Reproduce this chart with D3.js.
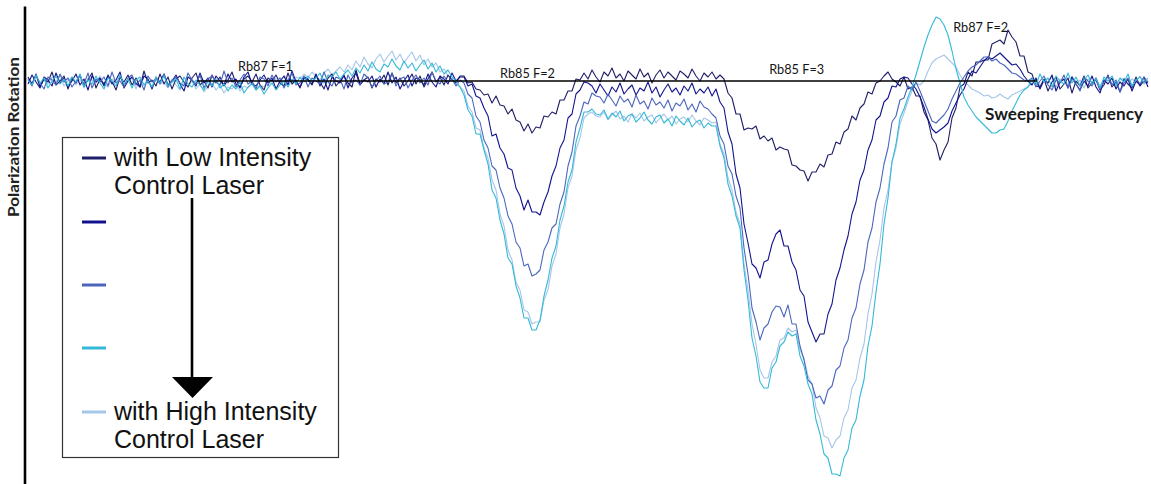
<!DOCTYPE html>
<html>
<head>
<meta charset="utf-8">
<script src="https://cdn.jsdelivr.net/npm/d3@7/dist/d3.min.js"></script>
<style>
  html, body { margin: 0; padding: 0; background: #ffffff; }
  svg { display: block; }
</style>
</head>
<body>
<svg id="chart" width="1151" height="484"></svg>
<script>
// Polarization rotation vs. sweep step (281 samples per trace, arbitrary units, 0 = no rotation)
const seriesNames = ["low", "s2", "s3", "s4", "high"];
const seriesColors = ["#1f1f68", "#12128e", "#4a66bc", "#33b8d8", "#a4c6e8"];

const lowIntensity = [
  4,-3,7,-6,2,-1,9,-4,0,5, -8,3,-2,6,-5,1,8,-7,2,-3, 5,0,-9,4,-1,6,-4,3,-6,10, -2,1,-5,7,-3,4,-8,2,5,-1,
  -6,3,8,-4,0,-7,6,-2,4,-5, 1,9,-3,-6,2,5,-1,7,-4,-9, 3,0,6,-2,-5,8,-3,1,-7,4, 2,-4,6,-1,-8,3,7,-5,0,5,
  -2,-6,11,-3,1,4,-7,2,-1,6, -4,8,-2,3,-5,0,7,-3,5,-6, 2,9,-1,4,-4,6,1,-2,5,
  5,-2,-1,-8,-9,-14,-13,-22,-15,-24,-25,-33,-28,-39,-41,-50,-43,-52,-46,-47,-35,-36,-31,-33,-19,-19,-10,-10,2,1,
  8,2,11,4,-1,9,5,13,3,7,0,10,6,2,12,4,8,-2,6,11,3,9,5,1,10,7,3,12,5,0,8,4,9,2,6,
  2,-12,-17,-33,-33,-49,-47,-48,-45,-58,-55,-60,-57,-69,-66,-68,-69,-84,-85,-89,-90,-100,-91,-91,-83,-86,-74,-73,-61,-63,-51,-48,-35,-39,-27,-23,-11,-13,-2,0,5,
  9,2,-1,-5,4,-8,-6,-15,-15,-31,-39,-57,-63,-79,-69,-61,-37,-27,-6,-3,9,5,19,19,21,21,37,39,41,37,51,44,39,25,25,9,7,-5,
  -6,2,-10,-1,4,-8,-3,3,-12,0,-5,5,-7,-2,1,-9,-4,6,-6,-1,-11,2,-3,-7,4,-5,0,-2
];
const intensity2 = [
  -3,6,-1,-7,4,1,-5,8,-2,3, -6,0,7,-4,2,-9,5,-1,3,-5, 6,-3,1,9,-7,0,4,-2,-6,5, 2,-8,3,-1,7,-4,0,6,-3,-10,
  4,1,-5,8,-2,3,-6,5,0,-4, 7,-1,2,-7,4,9,-3,-5,1,6, -2,3,-8,0,5,-4,10,-1,-6,3, 1,-3,7,-5,2,-9,4,0,-2,6,
  -7,3,8,-4,1,-1,5,-6,2,-3, 9,-2,4,-8,0,6,-5,3,1,-4, 7,-1,-6,5,2,-3,8,0,4,
  4,-5,-3,-15,-17,-27,-35,-55,-53,-67,-73,-87,-89,-107,-115,-129,-119,-131,-131,-134,-121,-111,-95,-85,-67,-59,-37,-33,-13,-9,-1,-2,
  -5,-12,-3,-9,-15,-6,-11,-2,-13,-8,-4,-14,-7,-10,-1,-12,-6,-16,-9,-3,-11,-7,-14,-5,-10,-2,-13,-8,-12,-6,-15,
  -8,-21,-27,-51,-63,-93,-107,-143,-162,-183,-187,-197,-181,-179,-163,-153,-149,-165,-165,-181,-189,-209,-215,-241,-251,-261,-253,-253,-233,-223,-199,-187,-169,-155,-133,-121,-99,-89,-69,-59,-39,-35,-21,-17,-5,-6,2,
  4,3,-3,-8,-16,-26,-38,-48,-52,-49,-46,-42,-30,-22,-14,-8,2,10,8,14,20,24,22,25,28,24,20,16,17,12,5,0,
  -4,3,-8,1,-2,6,-10,-1,2,-7,4,-3,-9,0,-5,5,-6,-12,1,-3,3,-8,-1,-5,2,-10,0,-4,4,-6
];
const intensity3 = [
  2,-5,6,-2,-8,4,1,-4,7,-1, 3,-6,0,5,-3,8,-7,2,-1,4, -5,9,-2,0,-6,3,6,-4,1,-9, 5,-1,2,-3,7,-6,0,4,-2,-5,
  8,1,-3,6,-7,2,5,-1,-4,10, -2,3,-6,1,7,-3,0,-8,4,2, -5,6,-1,3,-7,1,8,-4,-2,5, -6,3,0,-3,9,-1,-5,4,2,-8,
  6,-2,1,-4,7,3,-6,0,5,-3, -1,8,-5,2,4,-7,1,6,-2,3, -4,9,0,-3,5,-1,2,-5,1,
  -2,-13,-17,-35,-41,-59,-67,-85,-89,-107,-117,-135,-143,-161,-167,-185,-183,-195,-193,-189,-169,-161,-147,-143,-123,-111,-85,-71,-45,-35,-21,-23,-12,-15,
  -16,-22,-13,-19,-25,-15,-21,-18,-26,-14,-23,-20,-28,-17,-24,-21,-27,-19,-30,-22,-25,-18,-29,-23,-31,-20,-26,-28,-33,
  -37,-55,-63,-85,-93,-115,-127,-167,-193,-227,-241,-259,-247,-243,-231,-225,-226,-236,-224,-243,-243,-265,-279,-299,-303,-317,-315,-323,-309,-305,-289,-285,-267,-259,-237,-227,-203,-189,-161,-147,-121,-107,-83,-67,-41,-35,-19,-17,-5,-9,-1,
  -10,-20,-30,-40,-42,-38,-34,-28,-18,-10,-2,4,10,14,16,20,24,24,20,22,18,16,12,8,7,4,1,0,
  3,-6,0,5,-4,-9,1,-2,6,-7,2,-3,-10,4,0,-5,3,-8,-1,5,-4,1,-11,-2,3,-6,2,-3,4,-1
];
const intensity4 = [
  1,-4,6,-2,3,-7,0,5,-3,2, -5,4,-1,7,-6,1,-3,5,-2,-8, 3,0,-5,6,-3,2,-7,1,4,-4, 0,-6,3,-2,5,-5,-1,2,-8,4,
  -3,-6,1,-4,-9,0,-5,2,-7,-3, -10,-4,-8,-1,-12,-6,-3,-9,-5,-13, -7,-2,-9,-4,0,-6,2,-3,4,-1, 5,0,3,8,-2,6,4,9,2,7,
  11,5,13,8,16,10,19,12,9,17, 14,22,15,11,20,13,18,10,16,21, 12,18,9,15,7,11,4,0,-6,
  -14,-29,-35,-53,-53,-69,-83,-109,-117,-139,-153,-177,-183,-205,-217,-237,-237,-249,-249,-239,-215,-199,-177,-165,-139,-125,-101,-89,-61,-47,-31,-31,-28,-33,
  -34,-29,-38,-32,-36,-30,-40,-35,-33,-41,-37,-31,-39,-43,-36,-34,-42,-38,-45,-35,-40,-44,-37,-46,-41,-39,-47,-42,-45,
  -45,-65,-77,-103,-115,-135,-147,-189,-219,-257,-275,-301,-307,-307,-287,-281,-265,-261,-251,-255,-253,-275,-285,-303,-313,-339,-353,-373,-377,-393,-393,-395,-377,-369,-347,-339,-315,-299,-265,-245,-211,-183,-143,-117,-81,-63,-37,
  -28,-16,-6,6,20,34,46,56,64,62,56,46,30,12,-2,-16,-24,-30,-36,-40,-44,-48,-52,-52,-49,-48,-40,-30,-22,-14,-9,-6,
  2,-4,7,-1,3,-6,5,0,-3,8,-2,4,-5,1,6,-3,2,-7,4,0,5,-4,3,-1,7,-5,1,4,-2,3
];
const highIntensity = [
  3,-2,5,-6,1,-3,4,-1,6,-5, 0,4,-4,2,-7,3,1,-2,5,-3, -6,2,-1,4,-5,0,3,-8,2,-4, 1,-6,5,-3,-1,-7,2,-4,-9,-2,
  -6,0,-8,-3,-11,-5,-2,-9,-4,-12, -6,-8,-3,-10,-5,-7,-1,-9,-4,-6, 0,-3,3,-2,5,1,-1,4,2,7, 3,9,5,1,8,12,6,10,14,9,
  16,11,20,14,24,17,13,22,27,19, 25,30,21,27,18,24,29,20,26,16, 22,14,18,9,12,5,2,-3,-6,
  -10,-25,-31,-47,-49,-67,-77,-99,-109,-133,-145,-169,-179,-201,-209,-229,-231,-243,-241,-241,-219,-209,-185,-173,-147,-133,-107,-95,-69,-57,-37,-33,-31,-35,
  -36,-31,-39,-34,-30,-38,-35,-41,-33,-37,-32,-40,-36,-34,-42,-37,-33,-39,-35,-43,-38,-36,-41,-34,-40,-44,-37,-39,-42,
  -41,-63,-73,-97,-109,-131,-143,-183,-209,-243,-263,-289,-297,-297,-281,-275,-259,-257,-247,-251,-249,-269,-277,-295,-303,-327,-337,-355,-357,-367,-359,-355,-337,-329,-307,-299,-277,-263,-233,-213,-181,-159,-127,-109,-81,-67,-43,
  -32,-20,-10,-2,-4,0,10,18,22,24,26,22,18,14,6,0,-4,-8,-10,-12,-15,-14,-17,-16,-13,-16,-18,-14,-12,-10,-8,-6,
  -2,3,-5,1,-1,4,-6,2,0,-4,5,-3,1,-7,2,-1,3,-5,0,4,-2,-6,1,3,-4,2,-1,5,-3,0
];
const seriesValues = [lowIntensity, intensity2, intensity3, intensity4, highIntensity];

// Resonance labels: sweep position of the label's left edge and rotation level of its baseline
const lineLabels = ["Rb87 F=1", "Rb85 F=2", "Rb85 F=3", "Rb87 F=2"];
const lineLabelSweep = [52.5, 118, 185.3, 231.3];
const lineLabelLevel = [10, 3, 7, 49];

const legendLabels = [["with Low Intensity", "Control Laser"], [], [], [], ["with High Intensity", "Control Laser"]];
const axisTitleY = "Polarization Rotation";
const axisTitleX = "Sweeping Frequency";
const zeroLineSpan = [42.25, 252.25];

const svg = d3.select("#chart");

const x = d3.scaleLinear().domain([0, 280]).range([28, 1148]);
const y = d3.scaleLinear().domain([-403, 75]).range([484, 6]);

// vertical axis (no ticks)
svg.append("g")
  .attr("transform", "translate(24.5,0)")
  .call(d3.axisLeft(y).tickValues([]).tickSizeOuter(0))
  .call(g => g.select(".domain").attr("stroke", "#000").attr("stroke-width", 2.6));

svg.append("text")
  .attr("transform", "translate(19,137) rotate(-90)")
  .attr("text-anchor", "middle")
  .attr("font-family", "Lato, 'Open Sans', sans-serif")
  .attr("font-weight", "bold")
  .attr("font-size", 15)
  .attr("fill", "#222")
  .attr("textLength", 160)
  .attr("lengthAdjust", "spacingAndGlyphs")
  .text(axisTitleY);

// traces
const line = d3.line()
  .x((d, i) => x(i))
  .y(d => y(d));

const drawOrder = [4, 0, 1, 2, 3];
svg.append("g")
  .selectAll("path")
  .data(drawOrder)
  .join("path")
  .attr("d", k => line(seriesValues[k]))
  .attr("fill", "none")
  .attr("stroke", k => seriesColors[k])
  .attr("stroke-width", 1.1)
  .attr("stroke-linejoin", "round");

// zero-rotation reference line
svg.append("line")
  .attr("x1", x(zeroLineSpan[0])).attr("x2", x(zeroLineSpan[1]))
  .attr("y1", y(0)).attr("y2", y(0))
  .attr("stroke", "#000").attr("stroke-width", 1.6);

// resonance labels
svg.append("g")
  .selectAll("text")
  .data(lineLabels)
  .join("text")
  .attr("x", (d, i) => x(lineLabelSweep[i]))
  .attr("y", (d, i) => y(lineLabelLevel[i]))
  .attr("font-family", "Lato, 'Open Sans', sans-serif")
  .attr("font-size", 14)
  .attr("fill", "#151515")
  .attr("textLength", 55)
  .attr("lengthAdjust", "spacingAndGlyphs")
  .text(d => d);

svg.append("text")
  .attr("x", 985).attr("y", 120)
  .attr("font-family", "Lato, 'Open Sans', sans-serif")
  .attr("font-weight", "bold")
  .attr("font-size", 17)
  .attr("fill", "#1a1a1a")
  .attr("textLength", 158)
  .attr("lengthAdjust", "spacingAndGlyphs")
  .text(axisTitleX);

// legend
const legend = svg.append("g");
legend.append("rect")
  .attr("x", 62.5).attr("y", 137.5)
  .attr("width", 276).attr("height", 320)
  .attr("fill", "#fff").attr("stroke", "#333").attr("stroke-width", 1.2);

const swatchY = [158, 222, 285, 348, 412];
legend.selectAll("line.swatch")
  .data(seriesNames)
  .join("line")
  .attr("class", "swatch")
  .attr("x1", 82).attr("x2", 106)
  .attr("y1", (d, i) => swatchY[i]).attr("y2", (d, i) => swatchY[i])
  .attr("stroke", (d, i) => seriesColors[i])
  .attr("stroke-width", 3);

legendLabels.forEach((lines, i) => {
  lines.forEach((t, j) => {
    legend.append("text")
      .attr("x", 114)
      .attr("y", swatchY[i] + 8 + j * 27.5)
      .attr("font-family", "'Liberation Sans', Arial, sans-serif")
      .attr("font-size", 25)
      .attr("fill", "#111")
      .text(t);
  });
});

// arrow from low to high intensity
legend.append("line")
  .attr("x1", 192).attr("x2", 192)
  .attr("y1", 198).attr("y2", 380)
  .attr("stroke", "#000").attr("stroke-width", 2.6);
legend.append("path")
  .attr("d", d3.line()([[172, 377], [213, 377], [192.5, 398]]) + "Z")
  .attr("fill", "#000");
</script>
</body>
</html>
